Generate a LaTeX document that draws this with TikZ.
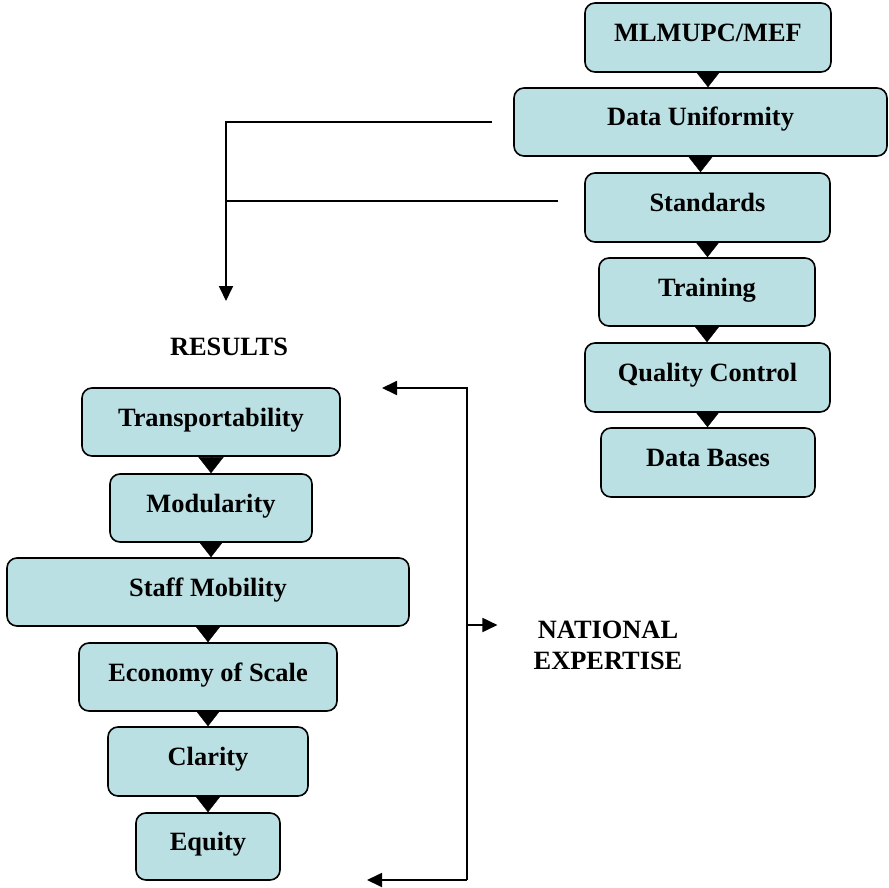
\documentclass[tikz,border=0pt]{standalone}
\usepackage{fontspec}
\setmainfont{Liberation Serif}
\usepackage{tikz}
\usetikzlibrary{arrows.meta}
\definecolor{boxblue}{RGB}{187,224,227}

\begin{document}
\begin{tikzpicture}[x=1pt,y=-1pt,
	box/.style={draw,fill=boxblue,rounded corners=10pt,line width=1.6pt,inner sep=0pt,
		text height=19pt,text depth=11pt,font=\fontsize{26.4}{31}\selectfont\bfseries},
	tri/.style={-{Triangle[length=16pt,width=25pt]},line width=0.4pt},
	arr/.style={-{Triangle[length=15pt,width=14pt]},line width=1.8pt},
	lbl/.style={inner sep=0pt,align=center,font=\fontsize{26.4}{31}\selectfont\bfseries}]
	\useasboundingbox (0,0) rectangle (889,888);
	% top column
	\node[box,minimum width=246pt,minimum height=69pt] (mlm) at (708,37.5) {MLMUPC/MEF};
	\node[box,minimum width=373pt,minimum height=68pt] (du) at (700.5,122) {Data Uniformity};
	\node[box,minimum width=245pt,minimum height=69pt] (std) at (707.5,207.5) {Standards};
	\node[box,minimum width=216pt,minimum height=68pt] (trn) at (707,292) {Training};
	\node[box,minimum width=245pt,minimum height=69pt] (qc) at (707.5,377.5) {Quality Control};
	\node[box,minimum width=214pt,minimum height=69pt] (db) at (708,462.5) {Data Bases};
	% results column
	\node[lbl] (res) at (229,346.5) {RESULTS};
	\node[box,minimum width=258pt,minimum height=68pt] (trp) at (211,422) {Transportability};
	\node[box,minimum width=202pt,minimum height=68pt] (mod) at (211,508) {Modularity};
	\node[box,minimum width=402pt,minimum height=68pt] (stf) at (208,592) {Staff Mobility};
	\node[box,minimum width=258pt,minimum height=68pt] (eco) at (208,677) {Economy of Scale};
	\node[box,minimum width=200pt,minimum height=69pt] (clr) at (208,761.5) {Clarity};
	\node[box,minimum width=144pt,minimum height=67pt] (eq) at (208,846.5) {Equity};
	\node[lbl] (nat) at (608,645) {NATIONAL\\EXPERTISE};
	\coordinate (split) at (226,122);
	\coordinate (resin) at (226,301);
	\coordinate (stdin) at ([xshift=-26pt,yshift=6.5pt]std.west);
	\coordinate (ntop) at (467,388);
	\coordinate (nmid) at (467,625);
	\coordinate (nbot) at (467,880);
	\coordinate (trpin) at (382,388);
	\coordinate (eqin) at (367,880);
	% flow triangles
	\foreach \a/\b in {mlm/du,du/std,std/trn,trn/qc,qc/db,trp/mod,mod/stf,stf/eco,eco/clr,clr/eq}
		\draw[tri] (\a.south) -- (\a.south |- \b.north);
	% brackets
	\draw[arr] ([xshift=-21pt]du.west) -- (split) -- (resin);
	\draw[line width=1.8pt] (stdin) -- (split |- stdin);
	\draw[arr] (nbot) -- (ntop) -- (trpin);
	\draw[arr] (nbot) -- (eqin);
	\draw[arr] (nmid) -- ([xshift=-36pt]nat.west |- nmid);
\end{tikzpicture}
\end{document}
